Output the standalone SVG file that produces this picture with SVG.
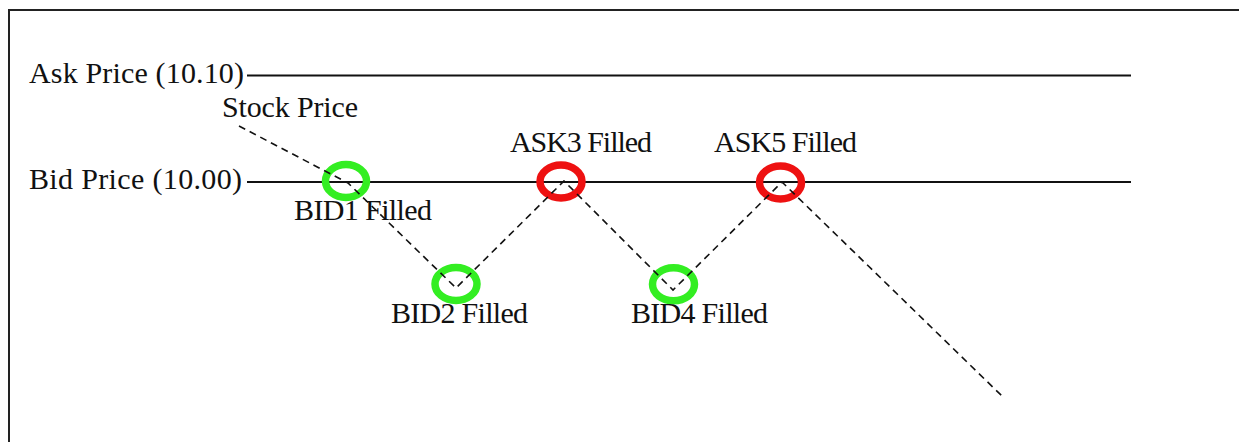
<svg xmlns="http://www.w3.org/2000/svg" width="1239" height="442" viewBox="0 0 1239 442">
  <style>
    .label { font-family: "Liberation Serif", "Times New Roman", serif; font-size: 30px; fill: #111; }
    .level { stroke: #111; stroke-width: 2; fill: none; }
    .frame { stroke: #222; stroke-width: 2; fill: none; }
    .bid { fill: none; stroke: #33ee22; stroke-width: 7.5; }
    .ask { fill: none; stroke: #ee1111; stroke-width: 7.5; }
    .price { fill: none; stroke: #111; stroke-width: 1.6; stroke-dasharray: 7 5; }
  </style>
  <rect width="1239" height="442" fill="#fff"/>

  <!-- outer frame, running off the right and bottom edges -->
  <path class="frame" d="M9,460 V10 H1250"/>

  <!-- price levels -->
  <g id="ask-level">
    <text class="label" x="29" y="83" textLength="215">Ask Price (10.10)</text>
    <line class="level" x1="247" y1="75.5" x2="1131" y2="75.5"/>
  </g>
  <g id="bid-level">
    <text class="label" x="29" y="189" textLength="213">Bid Price (10.00)</text>
    <line class="level" x1="247" y1="182" x2="1131" y2="182"/>
  </g>

  <!-- fills -->
  <g id="bid1">
    <ellipse class="bid" cx="346" cy="181" rx="20.5" ry="16.5"/>
    <text class="label" x="294" y="220" textLength="138">BID1 Filled</text>
  </g>
  <g id="bid2">
    <ellipse class="bid" cx="456" cy="284" rx="21" ry="16.5"/>
    <text class="label" x="391" y="323" textLength="137">BID2 Filled</text>
  </g>
  <g id="ask3">
    <ellipse class="ask" cx="561" cy="181.5" rx="21" ry="16.5"/>
    <text class="label" x="510" y="152" textLength="142">ASK3 Filled</text>
  </g>
  <g id="bid4">
    <ellipse class="bid" cx="673.5" cy="284.3" rx="21" ry="16.5"/>
    <text class="label" x="631" y="323" textLength="137">BID4 Filled</text>
  </g>
  <g id="ask5">
    <ellipse class="ask" cx="780.5" cy="182.5" rx="21" ry="16.5"/>
    <text class="label" x="714" y="152" textLength="143">ASK5 Filled</text>
  </g>

  <!-- stock price path -->
  <g id="stock-price">
    <text class="label" x="222" y="117" textLength="136">Stock Price</text>
  </g>
  <g id="connectors">
    <polyline class="price" points="239,126 348,183 456,288 564,181 673,290 782,182 1002,396"/>
  </g>
</svg>
